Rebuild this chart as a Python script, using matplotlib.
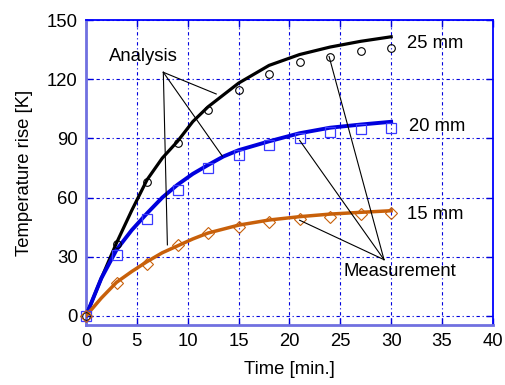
import matplotlib.pyplot as plt

plt.rcParams['font.family'] = ['Liberation Sans', 'DejaVu Sans']

# analysis curves
t_line = [0, 1.5, 3, 4.5, 6, 7.5, 9, 10.5, 12, 13.5, 15, 18, 21, 24, 27, 30]
a25 = [0, 19, 37, 53.5, 69, 80, 88.5, 98.5, 106, 112, 118, 127, 132.5, 136.3, 139.2, 141.5]
a20 = [0, 19, 33.5, 43.5, 52, 60, 66.5, 72, 76.5, 80.8, 84, 88.5, 92.6, 95.4, 97, 98.4]
a15 = [0, 9, 17, 22.5, 27.5, 32, 35.5, 39, 42, 44, 46, 48.6, 50.3, 51.6, 52.5, 53.3]

# measurements
t_meas = [0, 3, 6, 9, 12, 15, 18, 21, 24, 27, 30]
m25 = [0, 36.5, 68, 87.5, 104.5, 114.5, 122.5, 128.5, 131.5, 134.5, 136]
m20 = [0, 31, 49, 64, 75, 81.5, 86.5, 90, 93, 94.5, 95]
m15 = [0, 16.5, 26.5, 36, 42, 45.3, 47.8, 49, 50.3, 51.5, 52]

labels = ['25 mm', '20 mm', '15 mm']
x_ticks = [0, 5, 10, 15, 20, 25, 30, 35, 40]
y_ticks = [0, 30, 60, 90, 120, 150]

black = 'black'
blue = '#0000dd'
orange = '#c8600a'
fs = 13.3

fig = plt.figure(figsize=(5.06, 3.85), dpi=100)
ax = fig.add_axes([0.170, 0.156, 0.804, 0.792])

ax.plot(t_line, a25, color=black, lw=2.3, zorder=3)
ax.plot(t_line, a20, color=blue, lw=2.8, zorder=3)
ax.plot(t_line, a15, color=orange, lw=2.5, zorder=3)

ax.plot(t_meas, m25, 'o', mfc='none', mec=black, ms=5.5, mew=0.8, clip_on=False, zorder=4)
ax.plot(t_meas, m20, 's', mfc='none', mec='#3a3aff', ms=7.5, mew=0.9, clip_on=False, zorder=4)
ax.plot(t_meas, m15, 'D', mfc='none', mec=orange, ms=6, mew=0.8, clip_on=False, zorder=4)

ax.set_xlim(0, 40)
ax.set_ylim(-4.6, 150)
ax.set_xticks(x_ticks)
ax.set_yticks(y_ticks)
ax.tick_params(direction='in', length=5, width=1, color=blue, top=True, right=True,
               labelsize=fs, pad=6)
ax.grid(True, color=blue, lw=0.8, linestyle=(0, (3, 2.5, 1, 2.5)))

for side in ['top', 'right']:
    ax.spines[side].set_color('#0000ff')
    ax.spines[side].set_linewidth(1.3)
for side in ['left', 'bottom']:
    ax.spines[side].set_color('#7070e0')
    ax.spines[side].set_linewidth(2)

ax.set_xlabel('Time [min.]', fontsize=fs, labelpad=8)
ax.set_ylabel('Temperature rise [K]', fontsize=fs, labelpad=10)

# curve labels
ax.text(31.6, 138.2, labels[0], fontsize=fs, va='center')
ax.text(31.8, 95.8, labels[1], fontsize=fs, va='center')
ax.text(31.6, 51.3, labels[2], fontsize=fs, va='center')

# Analysis pointers
ax.text(5.6, 131.5, 'Analysis', fontsize=fs, ha='center', va='center')
src = (7.6, 123.5)
for tx, ty in [(12.8, 112.5), (13.4, 81), (8.0, 36)]:
    ax.plot([src[0], tx], [src[1], ty], color='black', lw=0.8, zorder=5)

# Measurement pointers
ax.text(30.9, 22.5, 'Measurement', fontsize=fs, ha='center', va='center')
src = (29.3, 28.5)
for tx, ty in [(23.9, 131.5), (21.0, 89), (21.0, 48.5)]:
    ax.plot([src[0], tx], [src[1], ty], color='black', lw=0.8, zorder=5)

fig.savefig('out.png', dpi=100)
